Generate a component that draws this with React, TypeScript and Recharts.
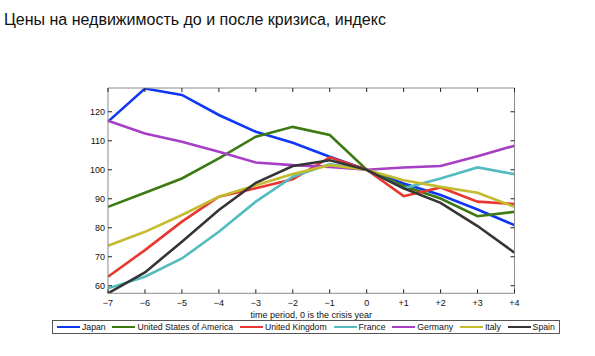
import React from 'react'
import { LineChart, Line, XAxis, YAxis } from 'recharts'

// period relative to crisis year
const periods = [-7, -6, -5, -4, -3, -2, -1, 0, 1, 2, 3, 4]
const periodLabels = ['−7', '−6', '−5', '−4', '−3', '−2', '−1', '0', '+1', '+2', '+3', '+4']
const yTicks = [60, 70, 80, 90, 100, 110, 120]

const japan = [116.6, 128, 125.8, 118.9, 113.1, 109.3, 104.5, 100, 95.3, 91.3, 86.3, 80.9]
const usa = [87.2, 92.1, 97, 103.9, 111.4, 114.8, 112, 100, 94.4, 90.1, 84, 85.5]
const uk = [63.1, 72.3, 82.1, 90.7, 93.6, 96.7, 104.3, 100, 90.9, 93.9, 89, 88.2]
const france = [59.1, 63.1, 69.4, 78.6, 89, 97.6, 102, 100, 93.6, 97, 100.8, 98.5]
const germany = [116.9, 112.5, 109.7, 106.2, 102.5, 101.6, 101, 100, 100.8, 101.3, 104.7, 108.3]
const italy = [73.8, 78.6, 84.4, 90.7, 94.7, 98.5, 101.6, 100, 96.4, 94.1, 92.1, 87.2]
const spain = [57.4, 64.6, 75.2, 86.1, 95.5, 101.3, 103.3, 100, 93.6, 88.6, 80.6, 71.4]

const series = [
  { key: 'japan', name: 'Japan', color: '#1037f5', values: japan },
  { key: 'usa', name: 'United States of America', color: '#3d7a12', values: usa },
  { key: 'uk', name: 'United Kingdom', color: '#e8372f', values: uk },
  { key: 'france', name: 'France', color: '#52bcc0', values: france },
  { key: 'germany', name: 'Germany', color: '#a63fc6', values: germany },
  { key: 'italy', name: 'Italy', color: '#c4bb2e', values: italy },
  { key: 'spain', name: 'Spain', color: '#353535', values: spain },
]

const chartData = periods.map((p, i) => {
  const row: Record<string, number> = { period: p }
  series.forEach((s) => {
    row[s.key] = s.values[i]
  })
  return row
})

const FONT = '"Liberation Sans", Arial, Helvetica, sans-serif'
const TICK_LEN = 4

const LeftTick = (props: any) => {
  const { x, y, payload } = props
  return (
    <g>
      <line x1={x} x2={x + TICK_LEN} y1={y} y2={y} stroke='#222' />
      <text x={x - 3} y={y + 3.2} textAnchor='end' fontSize={9} fontFamily={FONT} fill='#111'>
        {payload.value}
      </text>
    </g>
  )
}

const RightTick = (props: any) => {
  const { x, y } = props
  return <line x1={x} x2={x - TICK_LEN} y1={y} y2={y} stroke='#222' />
}

const BottomTick = (props: any) => {
  const { x, y, payload } = props
  const idx = periods.indexOf(payload.value)
  return (
    <g>
      <line x1={x} x2={x} y1={y} y2={y - TICK_LEN} stroke='#222' />
      <text x={x} y={y + 12.7} textAnchor='middle' fontSize={9} fontFamily={FONT} fill='#111'>
        {periodLabels[idx]}
      </text>
    </g>
  )
}

const TopTick = (props: any) => {
  const { x, y } = props
  return <line x1={x} x2={x} y1={y} y2={y + TICK_LEN} stroke='#222' />
}

const App: React.FC = () => {
  return (
    <div
      style={{
        position: 'absolute',
        left: 0,
        top: 0,
        width: 595,
        height: 356,
        background: '#fff',
        fontFamily: FONT,
      }}
    >
      <div
        style={{
          position: 'absolute',
          left: 4,
          top: 11.5,
          fontSize: 16,
          lineHeight: '16px',
          color: '#111',
          whiteSpace: 'nowrap',
        }}
      >
        Цены на недвижимость до и после кризиса, индекс
      </div>

      <LineChart
        width={595}
        height={356}
        data={chartData}
        margin={{ top: 78, right: 70.5, left: 78, bottom: 42.7 }}
        style={{ position: 'absolute', left: 0, top: 0 }}
      >
        <XAxis
          dataKey='period'
          type='number'
          domain={[-7, 4]}
          ticks={periods}
          interval={0}
          height={20}
          tickSize={0}
          tickMargin={0}
          tickLine={false}
          axisLine={{ stroke: '#8c8c8c' }}
          tick={<BottomTick />}
          label={{
            value: 'time period, 0 is the crisis year',
            position: 'bottom',
            offset: -2,
            fontSize: 9,
            fontFamily: FONT,
            fill: '#111',
          }}
        />
        <XAxis
          xAxisId='top'
          orientation='top'
          dataKey='period'
          type='number'
          domain={[-7, 4]}
          ticks={periods}
          interval={0}
          height={10}
          tickSize={0}
          tickMargin={0}
          tickLine={false}
          axisLine={{ stroke: '#8c8c8c' }}
          tick={<TopTick />}
        />
        <YAxis
          type='number'
          domain={[57.4, 128.2]}
          ticks={yTicks}
          interval={0}
          allowDataOverflow
          width={30}
          tickSize={0}
          tickMargin={0}
          tickLine={false}
          axisLine={{ stroke: '#8c8c8c' }}
          tick={<LeftTick />}
        />
        <YAxis
          yAxisId='right'
          orientation='right'
          type='number'
          domain={[57.4, 128.2]}
          ticks={yTicks}
          interval={0}
          allowDataOverflow
          width={10}
          tickSize={0}
          tickMargin={0}
          tickLine={false}
          axisLine={{ stroke: '#8c8c8c' }}
          tick={<RightTick />}
        />
        {series.map((s) => (
          <Line
            key={s.key}
            type='linear'
            dataKey={s.key}
            name={s.name}
            stroke={s.color}
            strokeWidth={2.6}
            dot={false}
            activeDot={false}
            isAnimationActive={false}
          />
        ))}
      </LineChart>

      <div
        style={{
          position: 'absolute',
          left: 52,
          top: 320,
          width: 502,
          height: 12,
          border: '1px solid #555',
          display: 'flex',
          alignItems: 'center',
          paddingLeft: 4,
          boxSizing: 'content-box',
          fontSize: 8.7,
          color: '#111',
          whiteSpace: 'nowrap',
        }}
      >
        {series.map((s, i) => (
          <div
            key={s.key}
            style={{ display: 'flex', alignItems: 'center', marginRight: i === series.length - 1 ? 0 : 6.8 }}
          >
            <div style={{ width: 23, height: 2, background: s.color, marginRight: 2 }} />
            <span>{s.name}</span>
          </div>
        ))}
      </div>
    </div>
  )
}

export default App
